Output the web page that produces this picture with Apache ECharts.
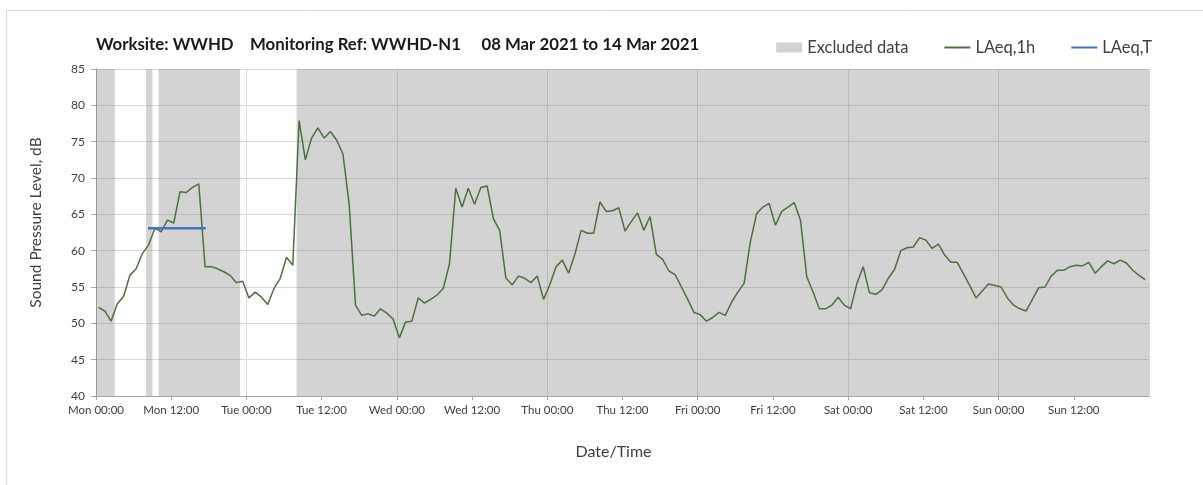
<!DOCTYPE html>
<html>
<head>
<meta charset="utf-8">
<script src="https://cdn.jsdelivr.net/npm/echarts@6/dist/echarts.min.js"></script>
<style>
html,body{margin:0;padding:0;background:#fff;}
#chart{width:1203px;height:485px;}
</style>
</head>
<body>
<div id="chart"></div>
<script>
// ---- data ----
var titleText = 'Worksite: WWHD    Monitoring Ref: WWHD-N1     08 Mar 2021 to 14 Mar 2021';
var dayNames = ['Mon', 'Tue', 'Wed', 'Thu', 'Fri', 'Sat', 'Sun', 'Mon'];
var yTicks = [40, 45, 50, 55, 60, 65, 70, 75, 80, 85];
// hourly LAeq,1h values (hour index 0 = Mon 00:00)
var laeq1h = [
  52.2, 51.7, 50.3, 52.7, 53.7, 56.6, 57.5, 59.6, 60.8, 63.1, 62.6, 64.2,
  63.8, 68.1, 68.0, 68.7, 69.2, 57.8, 57.8, 57.5, 57.1, 56.6, 55.6, 55.8,
  53.5, 54.3, 53.6, 52.6, 54.8, 56.2, 59.1, 58.0, 77.9, 72.5, 75.5, 76.9,
  75.5, 76.4, 75.2, 73.3, 66.3, 52.5, 51.1, 51.3, 51.0, 52.0, 51.4, 50.6,
  48.0, 50.2, 50.3, 53.5, 52.8, 53.3, 53.9, 54.8, 58.2, 68.6, 66.0, 68.6,
  66.4, 68.7, 68.9, 64.4, 62.8, 56.2, 55.3, 56.5, 56.2, 55.6, 56.5, 53.3,
  55.3, 57.8, 58.7, 56.9, 59.5, 62.8, 62.4, 62.4, 66.7, 65.4, 65.5, 65.9,
  62.7, 64.0, 65.2, 62.8, 64.7, 59.5, 58.8, 57.2, 56.7, 55.0, 53.3, 51.5,
  51.2, 50.3, 50.8, 51.5, 51.1, 52.9, 54.3, 55.5, 61.2, 65.1, 66.0, 66.5,
  63.5, 65.4, 66.0, 66.6, 64.2, 56.4, 54.3, 52.0, 52.0, 52.5, 53.6, 52.5,
  52.0, 55.5, 57.8, 54.2, 54.0, 54.6, 56.2, 57.4, 60.0, 60.4, 60.5, 61.8,
  61.45, 60.3, 60.9, 59.4, 58.4, 58.4, 56.8, 55.2, 53.5, 54.45, 55.4, 55.2,
  55.0, 53.5, 52.5, 52.0, 51.7, 53.3, 54.9, 55.0, 56.5, 57.3, 57.3, 57.8,
  58.0, 57.9, 58.4, 56.9, 57.8, 58.6, 58.2, 58.7, 58.3, 57.3, 56.6, 56.0
];
// excluded periods, hours from Mon 00:00
var excludedPeriods = [[0, 3], [8, 9], [10, 23], [32, 168]];
// LAeq,T period (hours) and level
var laeqTPeriod = [8.3, 17.5];
var laeqTValue = 63.1;

// ---- build ----
var lineData = laeq1h.map(function (v, i) { return [i + 0.4, v]; });
var areaData = excludedPeriods.map(function (p) { return [{ xAxis: p[0] }, { xAxis: p[1] }]; });
var laeqTData = laeqTPeriod.map(function (t) { return [t, laeqTValue]; });

var fontFamily = 'Lato, "Open Sans", sans-serif';
var chart = echarts.init(document.getElementById('chart'), null, { renderer: 'canvas' });
chart.setOption({
  animation: false,
  backgroundColor: '#ffffff',
  textStyle: { fontFamily: fontFamily },
  graphic: [{
    type: 'rect',
    shape: { x: 6.5, y: 10.5, width: 1220, height: 500 },
    style: { fill: 'none', stroke: '#d9d9d9', lineWidth: 1 },
    silent: true, z: -10
  }],
  title: {
    text: titleText,
    left: 91, top: 31,
    textStyle: { fontFamily: fontFamily, fontSize: 16.8, fontWeight: 'bold', color: '#1a1a1a' }
  },
  legend: {
    right: 46, top: 34,
    itemWidth: 26, itemHeight: 10, itemGap: 35,
    textStyle: { fontFamily: fontFamily, fontSize: 16.5, color: '#404040' },
    data: [
      { name: 'Excluded data', icon: 'rect', itemStyle: { color: '#d3d3d3' } },
      { name: 'LAeq,1h', itemStyle: { opacity: 0 } },
      { name: 'LAeq,T', itemStyle: { opacity: 0 } }
    ]
  },
  grid: { left: 96, right: 54, top: 69, bottom: 89, containLabel: false },
  xAxis: [{
    type: 'value', min: 0, max: 168, interval: 12, position: 'bottom',
    name: 'Date/Time', nameLocation: 'middle', nameGap: 48,
    nameTextStyle: { fontFamily: fontFamily, fontSize: 16, color: '#404040', padding: [0, 18, 0, 0] },
    axisLine: { show: true, onZero: false, lineStyle: { color: '#a6a6a6' } },
    axisTick: { show: true, length: 4, lineStyle: { color: '#a6a6a6' } },
    axisLabel: {
      margin: 8, fontSize: 11.5, color: '#404040', showMaxLabel: false,
      formatter: function (v) {
        var d = dayNames[Math.floor(v / 24)];
        return d + (v % 24 === 0 ? ' 00:00' : ' 12:00');
      }
    },
    splitLine: { show: false }
  }, {
    type: 'value', min: 0, max: 168, interval: 24, position: 'top',
    axisLine: { show: false }, axisTick: { show: false }, axisLabel: { show: false },
    splitLine: { show: true, lineStyle: { color: '#d9d9d9', width: 1 } }
  }],
  yAxis: {
    type: 'value', min: yTicks[0], max: yTicks[yTicks.length - 1], interval: 5,
    name: 'Sound Pressure Level, dB', nameLocation: 'middle', nameGap: 52,
    nameTextStyle: { fontFamily: fontFamily, fontSize: 15.5, color: '#404040', padding: [0, 0, 0, 20] },
    axisLine: { show: true, lineStyle: { color: '#a6a6a6' } },
    axisTick: { show: true, length: 5, lineStyle: { color: '#a6a6a6' } },
    axisLabel: { margin: 11, fontSize: 12, color: '#404040' },
    splitLine: { show: true, lineStyle: { color: '#d9d9d9', width: 1.2 } }
  },
  series: [{
    name: 'Excluded data', type: 'line', data: [], z: 1,
    itemStyle: { color: '#d3d3d3' },
    markArea: {
      silent: true,
      itemStyle: { color: 'rgba(128,128,128,0.35)' },
      data: areaData
    }
  }, {
    name: 'LAeq,1h', type: 'line', data: lineData, z: 4,
    symbol: 'none', color: '#4e7040',
    lineStyle: { color: '#4e7040', width: 1.5 }
  }, {
    name: 'LAeq,T', type: 'line', data: laeqTData, z: 5,
    symbol: 'none', color: '#4472c4',
    lineStyle: { color: '#4472c4', width: 2.5 }
  }]
});
</script>
</body>
</html>
